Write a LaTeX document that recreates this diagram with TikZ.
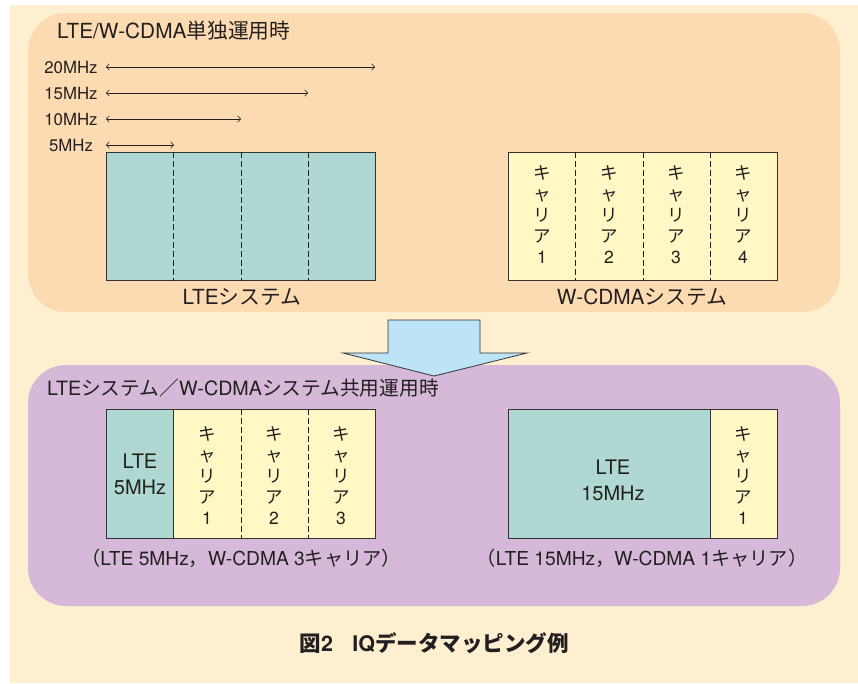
\documentclass[tikz,border=0pt]{standalone}
\usepackage{fontspec}
\setmainfont{Noto Sans CJK JP}
\newfontfamily\heros{TeX Gyre Heros}
\newcommand\hv[1]{{\heros #1}}
\usetikzlibrary{arrows.meta,calc}
\definecolor{bgcream}{HTML}{FEEFD1}
\definecolor{peach}{HTML}{FDDBB2}
\definecolor{lilac}{HTML}{D6B8D9}
\definecolor{teal}{HTML}{AFD8D3}
\definecolor{paleyellow}{HTML}{FFF8C4}
\definecolor{skyblue}{HTML}{BDE3F6}
\definecolor{ink}{HTML}{231F20}
\definecolor{edge}{HTML}{333333}
\tikzset{
  panel/.style={rounded corners=38pt},
  ltebox/.style={draw=edge, line width=0.9pt, fill=teal, inner sep=0pt, anchor=north west},
  wbox/.style={draw=edge, line width=0.9pt, fill=paleyellow, inner sep=0pt, anchor=north west},
  divider/.style={draw=ink, line width=0.9pt, dash pattern=on 5.5pt off 3.5pt},
  solidsep/.style={draw=edge, line width=0.9pt},
  dimarrow/.style={draw=ink, line width=0.6pt, {Straight Barb[length=3pt,width=6.5pt]}-{Straight Barb[length=3pt,width=6.5pt]}},
  ttl/.style={text=ink, font=\fontsize{20.8}{24}\selectfont, inner sep=0pt},
  sub/.style={text=ink, font=\fontsize{19.2}{22}\selectfont, inner sep=0pt},
  lbl/.style={text=ink, font=\fontsize{16.8}{19}\selectfont\heros, inner sep=0pt},
  carrier/.style={text=ink, font=\fontsize{17.5}{21}\selectfont, align=center, inner sep=0pt},
  boxtxt/.style={text=ink, font=\fontsize{20}{26}\selectfont\heros, align=center, inner sep=0pt},
}
\begin{document}
\begin{tikzpicture}[x=1pt,y=-1pt]
\useasboundingbox (0,0) rectangle (858,683);
\fill[white] (0,0) rectangle (858,683);
\fill[bgcream] (10,5) rectangle (858,683);
% top panel
\fill[peach, panel] (28,13) rectangle (840,312);
\node[ttl, anchor=west] (t1) at (57,31) {\hv{LTE/W-CDMA}単独運用時};
% dimension arrows
\node[lbl] (l20) at (71,67) {20MHz};
\node[lbl] (l15) at (71,93) {15MHz};
\node[lbl] (l10) at (71,119) {10MHz};
\node[lbl] (l5) at (71,145) {5MHz};
\coordinate (a20s) at (106,67); \coordinate (a20e) at (375,67);
\coordinate (a15s) at (106,93); \coordinate (a15e) at (308,93);
\coordinate (a10s) at (106,119); \coordinate (a10e) at (241,119);
\coordinate (a5s) at (106,145); \coordinate (a5e) at (174,145);
\draw[dimarrow] (a20s) -- (a20e);
\draw[dimarrow] (a15s) -- (a15e);
\draw[dimarrow] (a10s) -- (a10e);
\draw[dimarrow] (a5s) -- (a5e);
% LTE system box
\node[ltebox, minimum width=269, minimum height=128] (lte) at (106,152) {};
\foreach \f in {0.25,0.5,0.75}
  \draw[divider] ($(lte.north west)!\f!(lte.north east)$) -- ($(lte.south west)!\f!(lte.south east)$);
\node[ttl] (ltecap) at (242,297) {\hv{LTE}システム};
% W-CDMA system box
\node[wbox, minimum width=269, minimum height=128] (wc) at (508,152) {};
\foreach \f in {0.25,0.5,0.75}
  \draw[divider] ($(wc.north west)!\f!(wc.north east)$) -- ($(wc.south west)!\f!(wc.south east)$);
\node[carrier] (c1) at (542,215) {キ\\ャ\\リ\\ア\\\hv{1}};
\node[carrier] (c2) at (609,215) {キ\\ャ\\リ\\ア\\\hv{2}};
\node[carrier] (c3) at (676,215) {キ\\ャ\\リ\\ア\\\hv{3}};
\node[carrier] (c4) at (743,215) {キ\\ャ\\リ\\ア\\\hv{4}};
\node[ttl] (wcap) at (642,297) {\hv{W-CDMA}システム};
% bottom panel
\fill[lilac, panel] (28,365) rectangle (840,606);
% big arrow
\draw[fill=skyblue, draw=edge, line width=0.8pt] (388,320) -- (480,320) -- (480,353) -- (527,353) -- (434,376) -- (343,353) -- (388,353) -- cycle;
\node[ttl, font=\fontsize{19.7}{23}\selectfont, anchor=west] (t2) at (47,388) {\hv{LTE}システム／\hv{W-CDMA}システム共用運用時};
% combined box left
\node[wbox, minimum width=269, minimum height=129] (cl) at (106,409) {};
\fill[teal] ($(cl.north west)+(0.45,0.45)$) rectangle ($(cl.south west)!0.25!(cl.south east)$);
\draw[solidsep] ($(cl.north west)!0.25!(cl.north east)$) -- ($(cl.south west)!0.25!(cl.south east)$);
\foreach \f in {0.5,0.75}
  \draw[divider] ($(cl.north west)!\f!(cl.north east)$) -- ($(cl.south west)!\f!(cl.south east)$);
\draw[draw=edge, line width=0.9pt] (cl.north west) rectangle (cl.south east);
\node[boxtxt] (l5m) at (140,474) {LTE\\5MHz};
\node[carrier] (d1) at (207,476) {キ\\ャ\\リ\\ア\\\hv{1}};
\node[carrier] (d2) at (274,476) {キ\\ャ\\リ\\ア\\\hv{2}};
\node[carrier] (d3) at (341,476) {キ\\ャ\\リ\\ア\\\hv{3}};
\node[sub] (capl) at (241,558) {（\hv{LTE 5MHz}，\hv{W-CDMA 3}キャリア）};
% combined box right
\node[ltebox, minimum width=269, minimum height=129] (cr) at (508,409) {};
\fill[paleyellow] ($(cr.north west)!0.75!(cr.north east)$) rectangle ($(cr.south east)+(-0.45,-0.45)$);
\draw[solidsep] ($(cr.north west)!0.75!(cr.north east)$) -- ($(cr.south west)!0.75!(cr.south east)$);
\draw[draw=edge, line width=0.9pt] (cr.north west) rectangle (cr.south east);
\node[boxtxt] (l15m) at (613,480) {LTE\\15MHz};
\node[carrier] (e1) at (743,476) {キ\\ャ\\リ\\ア\\\hv{1}};
\node[sub] (capr) at (642,558) {（\hv{LTE 15MHz}，\hv{W-CDMA 1}キャリア）};
% figure caption
\node[ttl, font=\fontsize{21.5}{25}\selectfont\bfseries] (fig) at (434,643) {図\hv{2}\hspace{0.9em}\hv{IQ}データマッピング例};
\end{tikzpicture}
\end{document}
